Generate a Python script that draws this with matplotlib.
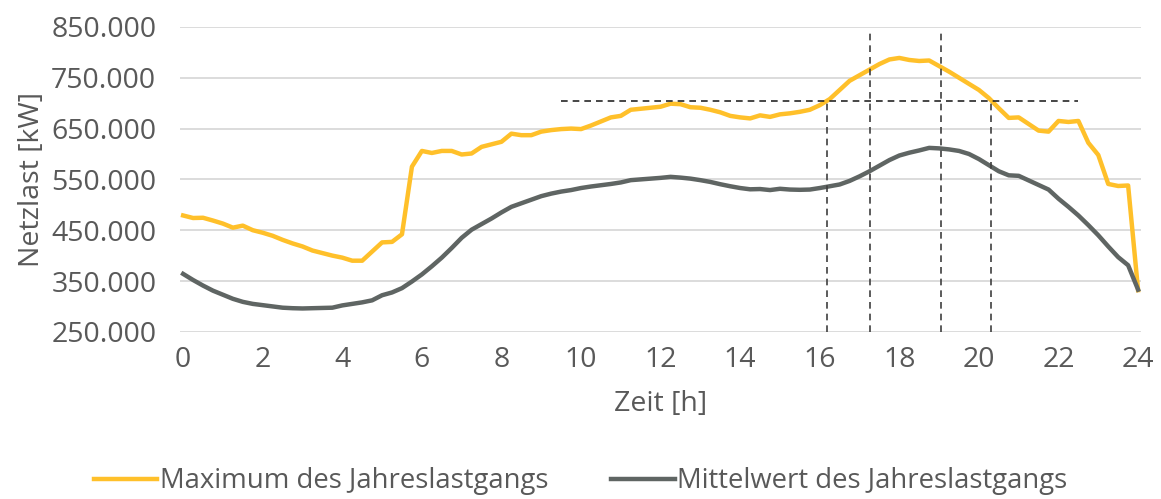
import matplotlib
matplotlib.use("Agg")
import matplotlib.pyplot as plt
from matplotlib.ticker import FuncFormatter

# quarter-hour resolution, 0..24 h
hours = [i * 0.25 for i in range(97)]

max_load = [
    479000, 474000, 474500, 469000, 463000, 455000, 459000, 450000,
    445000, 439000, 431000, 424000, 418000, 410000, 405000, 400000,
    396000, 390000, 390000, 408000, 426000, 427000, 442000, 575000,
    606000, 602000, 606000, 606000, 599000, 601000, 614000, 619000,
    624000, 640000, 637000, 637000, 644000, 647000, 649000, 650000,
    649000, 656000, 664000, 672000, 675000, 687000, 689000, 691000,
    693000, 699000, 698000, 692000, 691000, 687000, 682000, 675000,
    672000, 670000, 676000, 673000, 678000, 680000, 683000, 687000,
    696000, 708000, 726000, 744000, 755000, 766000, 777000, 786000,
    789000, 785000, 783000, 784000, 773000, 762000, 750000, 738000,
    726000, 710000, 690000, 671000, 672000, 659000, 646000, 644000,
    665000, 663000, 665000, 622000, 598000, 541000, 537000, 538000,
    332000,
]

mean_load = [
    364000, 352000, 341000, 331000, 323000, 315000, 309000, 305000,
    302500, 300000, 297500, 296500, 296000, 296500, 297000, 297500,
    302000, 305000, 308000, 312000, 322000, 327500, 336000, 349000,
    363000, 379000, 396000, 415000, 435000, 451000, 462000, 473000,
    485000, 496000, 503000, 510000, 517000, 522000, 526000, 529000,
    533000, 536000, 538500, 541000, 544000, 548500, 550000, 551500,
    553000, 555000, 553500, 551500, 548500, 545000, 540500, 536500,
    533000, 530500, 531000, 529000, 531500, 530000, 529500, 530000,
    533000, 536500, 540000, 547000, 556000, 566000, 577000, 588000,
    597000, 602500, 607000, 612000, 611000, 609000, 606000, 600000,
    590000, 578000, 566000, 558000, 557000, 548000, 539000, 530000,
    512000, 496000, 479000, 460000, 440000, 418000, 397000, 381000,
    333000,
]

# helper lines: threshold level and the times where it is crossed
threshold = 705000
threshold_span = [9.5, 22.5]
cross_times = [16.17, 20.3]
peak_times = [17.25, 19.05]
peak_top = 845000

y_ticks = [250000, 350000, 450000, 550000, 650000, 750000, 850000]
x_ticks = list(range(0, 25, 2))

text_col = "#595959"
plt.rcParams["font.family"] = ["Open Sans", "DejaVu Sans"]
plt.rcParams["font.size"] = 20.5

fig = plt.figure(figsize=(11.61, 4.99), dpi=100)
ax = fig.add_axes([0.155, 0.335, 0.828, 0.611])

ax.plot(hours, max_load, color="#FFC02A", lw=3.2, solid_joinstyle="round",
        label="Maximum des Jahreslastgangs", zorder=3)
ax.plot(hours, mean_load, color="#5F6563", lw=3.2, solid_joinstyle="round",
        label="Mittelwert des Jahreslastgangs", zorder=3)

ax.hlines(threshold, *threshold_span, colors="#262626", lw=1.2,
          linestyles=(0, (4, 3)), zorder=4)
ax.vlines(cross_times, 250000, threshold, colors="#404040", lw=1.2,
          linestyles=(0, (4, 3)), zorder=4)
ax.vlines(peak_times, 250000, peak_top, colors="#404040", lw=1.2,
          linestyles=(0, (4, 3)), zorder=4)

ax.set_xlim(-0.08, 24.08)
ax.set_ylim(250000, 850000)
ax.set_xticks(x_ticks)
ax.set_yticks(y_ticks)
ax.yaxis.set_major_formatter(
    FuncFormatter(lambda v, _: f"{int(v):,}".replace(",", ".")))
ax.grid(axis="y", color="#D9D9D9", lw=1.3)
ax.set_axisbelow(True)
for s in ax.spines.values():
    s.set_visible(False)
ax.tick_params(length=0, colors=text_col, pad=10)
ax.tick_params(axis="y", pad=17)

ax.set_xlabel("Zeit [h]", color=text_col, labelpad=12)
ax.set_ylabel("Netzlast [kW]", color=text_col, labelpad=4)

fig.legend(loc="lower center", bbox_to_anchor=(0.5, -0.042), ncol=2,
           frameon=False, handlelength=2.3, handletextpad=0.1,
           columnspacing=2.3, labelcolor=text_col, fontsize=19.8)

fig.savefig("out.png", dpi=100)
